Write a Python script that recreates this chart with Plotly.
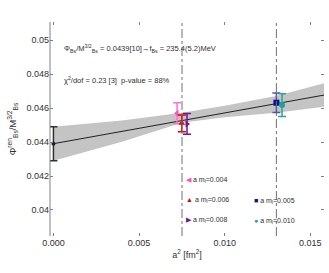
import plotly.graph_objects as go

# ---- data ----
labels = ["a m<sub>l</sub>=0.004", "a m<sub>l</sub>=0.006", "a m<sub>l</sub>=0.008",
          "a m<sub>l</sub>=0.005", "a m<sub>l</sub>=0.010"]
a2 = [0.00722, 0.00750, 0.00780, 0.01302, 0.01335]
phi = [0.04569, 0.04510, 0.04506, 0.04631, 0.04617]
phi_err = [0.00062, 0.00049, 0.00061, 0.00058, 0.00067]
colors = ["#ff4fc8", "#e00000", "#7a1190", "#101090", "#1aa3a0"]
err_colors = ["#ff70d0", "#e00000", "#7a1190", "#5050b0", "#20a8a0"]
symbols = ["triangle-left", "triangle-up", "triangle-right", "square", "circle"]
glyphs = ["◀", "▲", "▶", "■", "●"]

cont_x = [0.0]
cont_y = [0.0439]
cont_err = [0.0010]

fit_x = [0.0, 0.0158]
fit_y = [0.0439, 0.04676]
band_x = [0.0, 0.004, 0.0075, 0.010, 0.013, 0.0158]
band_lo = [0.0429, 0.04402, 0.04514, 0.04545, 0.04572, 0.04608]
band_hi = [0.0449, 0.04526, 0.04572, 0.04613, 0.04671, 0.04745]

vlines = [0.00751, 0.01302]

xticks = [0.0, 0.005, 0.010, 0.015]
xtick_text = ["0.000", "0.005", "0.010", "0.015"]
yticks = [0.040, 0.042, 0.044, 0.046, 0.048, 0.050]
ytick_text = ["0.04", "0.042", "0.044", "0.046", "0.048", "0.05"]

fig = go.Figure()

# band
fig.add_trace(go.Scatter(x=band_x + band_x[::-1], y=band_hi + band_lo[::-1],
                         fill="toself", fillcolor="#c4c4c4", line=dict(width=0),
                         mode="lines", showlegend=False, hoverinfo="skip"))
# fit line
fig.add_trace(go.Scatter(x=fit_x, y=fit_y, mode="lines",
                         line=dict(color="#202020", width=1), showlegend=False))
# continuum point
fig.add_trace(go.Scatter(x=cont_x, y=cont_y, mode="markers",
                         marker=dict(color="#202020", size=4, symbol="circle"),
                         error_y=dict(type="data", array=cont_err, color="#303030",
                                      thickness=1.5, width=4),
                         showlegend=False))
for i in range(len(a2)):
    fig.add_trace(go.Scatter(x=[a2[i]], y=[phi[i]], mode="markers", name=labels[i],
                             marker=dict(color=colors[i], size=6, symbol=symbols[i]),
                             error_y=dict(type="data", array=[phi_err[i]],
                                          color=err_colors[i], thickness=1.5, width=4),
                             showlegend=False))

for xv in vlines:
    fig.add_vline(x=xv, line=dict(color="#707070", width=1, dash="dashdot"))

# left spine
fig.add_shape(type="line", xref="paper", yref="paper", x0=0, x1=0, y0=0, y1=1,
              line=dict(color="#808080", width=1))

# legend-like annotations
leg_pos = [(192, 180), (192, 200), (192, 220), (260, 201), (260, 221)]
W, H = 329, 273
ml, mr, mt, mb = 50, 5, 22, 37
pw, ph = W - ml - mr, H - mt - mb
for i, (px, py) in enumerate(leg_pos):
    fig.add_annotation(xref="paper", yref="paper",
                       x=(px - 8 - ml) / pw, y=1 - (py - mt) / ph,
                       xanchor="left", yanchor="middle", showarrow=False,
                       text=f"<span style='color:{colors[i]}'>{glyphs[i]}</span> {labels[i]}",
                       font=dict(size=7, color="#303030", family="Arial"))

fig.add_annotation(xref="paper", yref="paper", x=(62 - ml) / pw, y=1 - (49 - mt) / ph,
                   xanchor="left", yanchor="middle", showarrow=False,
                   text="Φ<sub>Bs</sub>/M<sup>3/2</sup><sub>Bs</sub> = 0.0439[10]→f<sub>Bs</sub> = 235.4(5.2)MeV",
                   font=dict(size=7.5, color="#303030", family="Arial"))
fig.add_annotation(xref="paper", yref="paper", x=(62 - ml) / pw, y=1 - (80 - mt) / ph,
                   xanchor="left", yanchor="middle", showarrow=False,
                   text="χ<sup>2</sup>/dof = 0.23 [3]  p-value = 88%",
                   font=dict(size=7.5, color="#303030", family="Arial"))

fig.update_layout(
    width=W, height=H, margin=dict(l=ml, r=mr, t=mt, b=mb, autoexpand=False),
    paper_bgcolor="white", plot_bgcolor="white",
    font=dict(family="Arial", size=9, color="#303030"),
    xaxis=dict(range=[-0.0002, 0.0158], tickvals=xticks, ticktext=xtick_text,
               showgrid=False, zeroline=False, showline=False, automargin=False,
               ticks="inside", ticklen=3, tickcolor="#808080", mirror="ticks",
               title=dict(text="a<sup>2</sup> [fm<sup>2</sup>]", standoff=4,
                          font=dict(size=9))),
    yaxis=dict(range=[0.03847, 0.05106], tickvals=yticks, ticktext=ytick_text,
               showgrid=False, zeroline=False, showline=False, automargin=False,
               ticks="inside", ticklen=3, tickcolor="#808080", mirror="ticks",
               title=dict(text="Φ<sup>ren</sup><sub>Bs</sub>/M<sup>3/2</sup><sub>Bs</sub>",
                          standoff=8, font=dict(size=9.5))),
    showlegend=False,
)

fig.write_html("out.html", config={"displayModeBar": False},
               post_script="document.body.style.margin='0';document.body.style.padding='0';")
